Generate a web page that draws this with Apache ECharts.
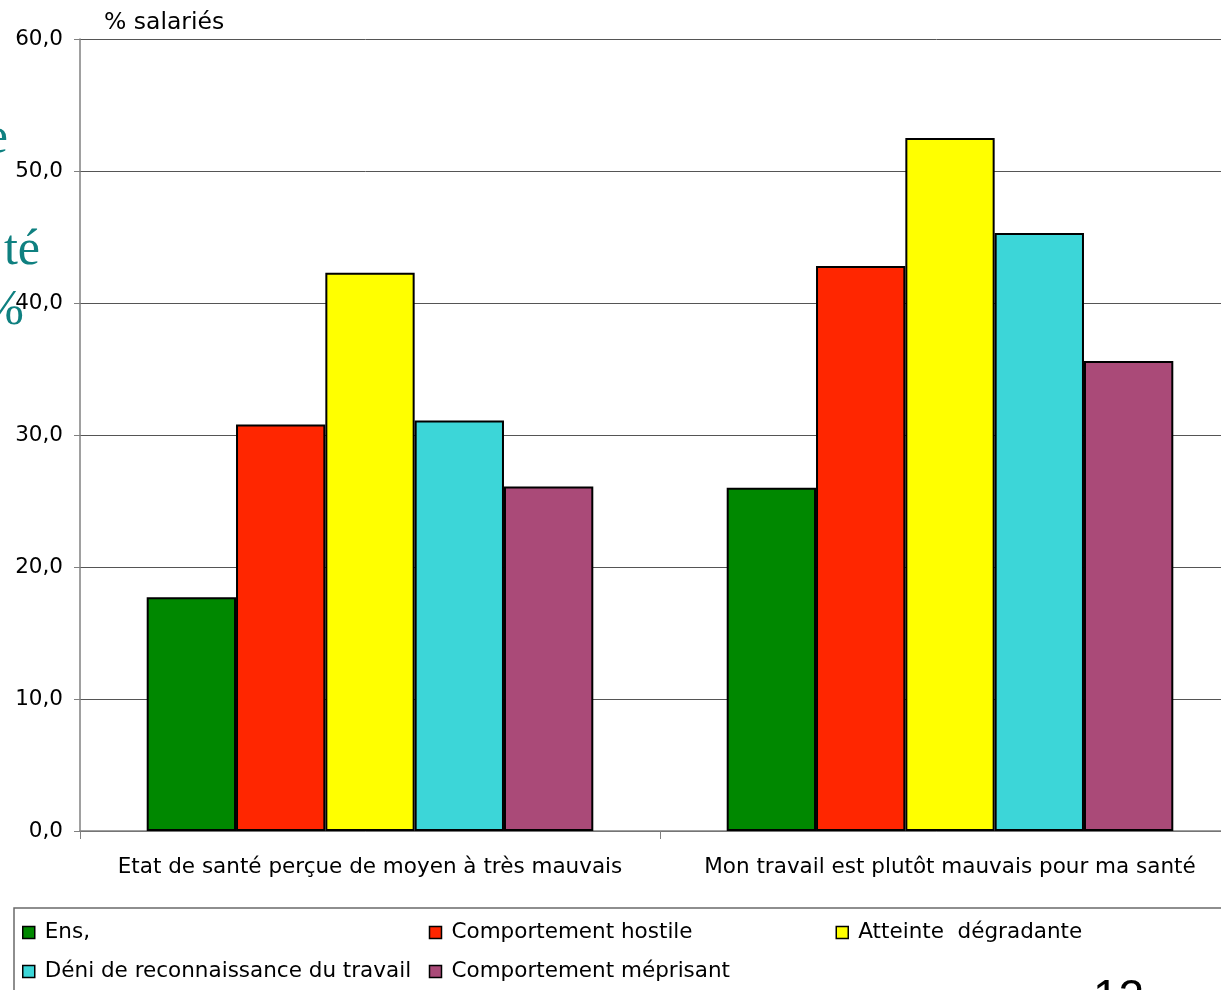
<!DOCTYPE html>
<html>
<head>
<meta charset="utf-8">
<script src="https://cdn.jsdelivr.net/npm/echarts@6/dist/echarts.min.js"></script>
<style>
  html, body { margin: 0; padding: 0; background: #ffffff; }
  #chart { width: 1221px; height: 990px; }
</style>
</head>
<body>
<div id="chart"></div>
<script>
// Categories on the x axis
const categories = [
  'Etat de santé perçue de moyen à très mauvais',
  'Mon travail est plutôt mauvais pour ma santé'
];

// Series names (legend order)
const seriesNames = [
  'Ens,',
  'Comportement hostile',
  'Atteinte  dégradante',
  'Déni de reconnaissance du travail',
  'Comportement méprisant'
];

// Values in % of employees, one array per series
const ensValues        = [17.7, 26.0];
const hostileValues    = [30.8, 42.8];
const degradantValues  = [42.3, 52.5];
const deniValues       = [31.1, 45.3];
const meprisantValues  = [26.1, 35.6];

const seriesValues = [ensValues, hostileValues, degradantValues, deniValues, meprisantValues];
const seriesColors = ['#008800', '#ff2600', '#ffff00', '#3cd6d8', '#aa4a78'];

const FONT = 'DejaVu Sans';
const FS = 21.5;

const chart = echarts.init(document.getElementById('chart'), null, { renderer: 'canvas' });

const option = {
  backgroundColor: '#ffffff',
  animation: false,
  textStyle: { fontFamily: FONT },
  // plot area runs a little past the right edge of the canvas
  grid: { left: 80, top: 39, width: 1160, bottom: 159, containLabel: false, outerBoundsMode: 'none' },
  xAxis: {
    type: 'category',
    data: categories,
    axisLine: { show: true, lineStyle: { color: '#808080', width: 1.5 } },
    axisTick: { show: true, length: 8, interval: 0, lineStyle: { color: '#808080' } },
    axisLabel: { color: '#000', fontSize: FS, fontFamily: FONT, margin: 25, interval: 0 },
    splitLine: { show: false }
  },
  yAxis: {
    type: 'value',
    min: 0,
    max: 60,
    interval: 10,
    axisLine: { show: true, lineStyle: { color: '#808080', width: 1.5 } },
    axisTick: { show: true, inside: false, length: 6, lineStyle: { color: '#808080' } },
    axisLabel: {
      color: '#000', fontSize: FS, fontFamily: FONT, margin: 17,
      padding: [3, 0, 0, 0],
      formatter: v => v.toFixed(1).replace('.', ',')
    },
    splitLine: { show: true, lineStyle: { color: '#555', width: 1 } }
  },
  legend: {
    left: 22,
    top: 913,
    width: 1120,
    padding: 0,
    itemGap: 0,
    itemWidth: 12,
    itemHeight: 12,
    icon: 'rect',
    itemStyle: { borderColor: '#000', borderWidth: 1.5 },
    data: seriesNames,
    formatter: name => (name === 'Atteinte  dégradante' || name === 'Comportement méprisant')
      ? '{b|' + name + '}' : '{a|' + name + '}',
    textStyle: {
      color: '#000', fontSize: FS, fontFamily: FONT,
      rich: {
        a: { width: 384, height: 39, lineHeight: 39, padding: [0, 0, 0, 5], fontSize: FS, fontFamily: FONT, color: '#000' },
        b: { width: 250, height: 39, lineHeight: 39, padding: [0, 0, 0, 5], fontSize: FS, fontFamily: FONT, color: '#000' }
      }
    }
  },
  series: seriesNames.map((name, i) => ({
    name: name,
    type: 'bar',
    data: seriesValues[i],
    barGap: '0%',
    barCategoryGap: '23%',
    itemStyle: { color: seriesColors[i], borderColor: '#000', borderWidth: 2 },
    emphasis: { disabled: true }
  })),
  graphic: [
    // unit caption above the value axis
    { type: 'text', left: 104, top: 11,
      style: { text: '% salariés', font: '23.5px "DejaVu Sans"', fill: '#000' } },
    // frame around the legend
    { type: 'rect', shape: { x: 14, y: 908, width: 1300, height: 200 },
      style: { fill: null, stroke: '#6a6a6a', lineWidth: 1.5 }, z: -1 },
    // slide title fragments at the left edge
    { type: 'text', x: 8, y: 114,
      style: { text: 'e', font: '50px "Liberation Serif"', fill: '#0f8080', align: 'right', verticalAlign: 'top' } },
    { type: 'text', x: 40, y: 226,
      style: { text: 'té', font: '50px "Liberation Serif"', fill: '#0f8080', align: 'right', verticalAlign: 'top' } },
    { type: 'text', x: 24, y: 286,
      style: { text: '%', font: '50px "Liberation Serif"', fill: '#0f8080', align: 'right', verticalAlign: 'top' } },
    // slide page number
    { type: 'text', x: 1093, y: 976,
      style: { text: '12', font: '46px "Liberation Sans"', fill: '#000', verticalAlign: 'top' } }
  ]
};

chart.setOption(option);
</script>
</body>
</html>
